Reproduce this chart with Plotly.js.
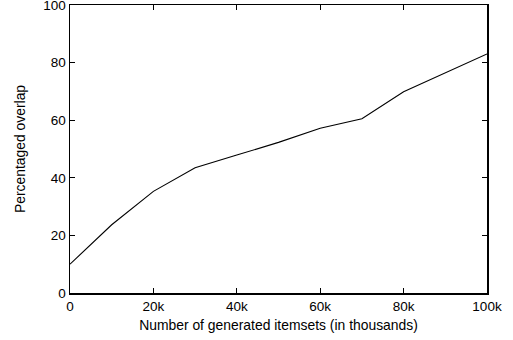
<!DOCTYPE html>
<html>
<head>
<meta charset="utf-8">
<script src="https://cdn.plot.ly/plotly-3.0.1.min.js"></script>
<style>html,body{margin:0;padding:0;background:#fff;}#chart{width:513px;height:340px;}</style>
</head>
<body>
<div id="chart"></div>
<script>
const itemsetsK = [0, 10, 20, 30, 40, 50, 60, 70, 80, 90, 100];
const overlap = [10, 23.7, 35.3, 43.5, 47.9, 52.3, 57.2, 60.5, 69.9, 76.5, 83.0];
const xTickVals = [0, 20, 40, 60, 80, 100];
const xTickText = ['0', '20k', '40k', '60k', '80k', '100k'];
const yTickVals = [0, 20, 40, 60, 80, 100];

const fam = 'Liberation Sans, Arial, Helvetica, sans-serif';
const tickFont = {family: fam, size: 13.5, color: '#000'};
const titleFont = {family: fam, size: 13.9, color: '#000'};

const trace = {
  x: itemsetsK, y: overlap, type: 'scatter', mode: 'lines',
  line: {color: '#000', width: 1.1}, hoverinfo: 'skip'
};

const axisCommon = {
  showgrid: false, zeroline: false, showline: true, linecolor: '#000', linewidth: 1.5,
  mirror: 'ticks', ticks: 'inside', ticklen: 5, tickwidth: 1, tickcolor: '#000',
  tickfont: tickFont, ticklabeloverflow: 'allow'
};

const layout = {
  width: 513, height: 340,
  margin: {l: 70, r: 26, t: 5, b: 47},
  paper_bgcolor: '#fff', plot_bgcolor: '#fff',
  font: tickFont, showlegend: false,
  xaxis: Object.assign({}, axisCommon, {
    range: [0, 100], tickvals: xTickVals, ticktext: xTickText,
    title: {text: 'Number of generated itemsets (in thousands)', font: titleFont, standoff: 7}
  }),
  yaxis: Object.assign({}, axisCommon, {
    range: [0, 100], tickvals: yTickVals,
    title: {text: 'Percentaged overlap', font: titleFont, standoff: 14}
  })
};

Plotly.newPlot('chart', [trace], layout, {staticPlot: true, displayModeBar: false});
</script>
</body>
</html>
